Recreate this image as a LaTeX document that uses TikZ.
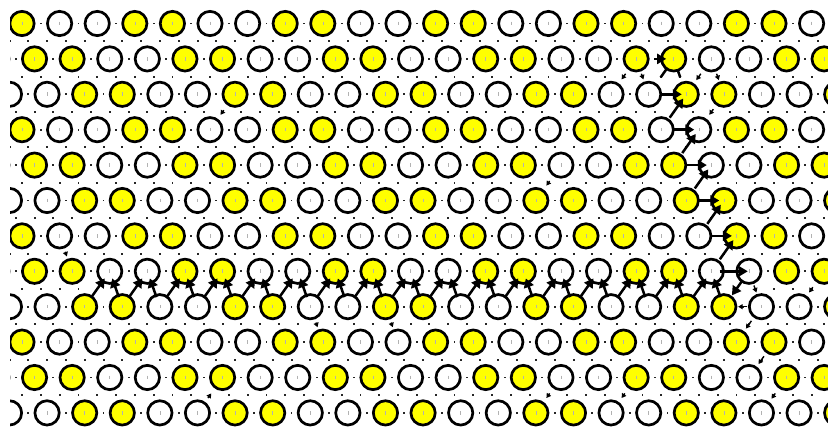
\documentclass[tikz,border=0pt]{standalone}
\usetikzlibrary{arrows.meta,calc}
\definecolor{yel}{RGB}{255,255,0}
\newcommand\zarr[2]{\draw[bigarr] ($(#1)!0.27!(#2)$) -- ($(#1)!0.8!(#2)$);}
\newcommand\warr[2]{\draw[bigarr] ($(#1)!0.34!(#2)$) -- ($(#1)!0.88!(#2)$);}
\newcommand\sarr[4]{\draw[smallarr] ($(#1)!#3!(#2)$) -- ($(#1)!#4!(#2)$);}
\begin{document}
\begin{tikzpicture}[x=1pt,y=-1pt,
  site/.style={circle,draw=black,line width=2.7pt,minimum size=24.3pt,inner sep=0pt},
  bigarr/.style={line width=2.5pt,-{Triangle[length=9pt,width=10pt]}},
  smallarr/.style={line width=1.4pt,-{Triangle[length=4.5pt,width=5pt]}},
  leg/.style={line width=2.5pt},
  tick/.style={gray!60,line width=0.5pt},
  dot/.style={fill=black!85}]
\useasboundingbox (0,0) rectangle (828,430);
\fill[white] (0,0) rectangle (828,430);
\begin{scope}
\clip (10,0) rectangle (828,430);
\foreach \r in {0,...,11}{
 \foreach \k in {-1,...,21}{
  \pgfmathtruncatemacro{\m}{mod(\r,3)}
  \pgfmathsetmacro{\xx}{22+12.53*\m+37.6*\k}
  \pgfmathsetmacro{\yy}{23.5+35.4*\r}
  \pgfmathtruncatemacro{\cc}{mod(mod(\k+4,4)-\m+5,4)}
  \ifnum\cc<2 \def\fc{yel}\else\def\fc{white}\fi
  \node[site,fill=\fc] (c\r-\k) at (\xx,\yy) {};
  \draw[tick] (\xx,\yy-1.8) -- (\xx,\yy+1.8);
  \fill[dot] (\xx-19.7,\yy-0.9) rectangle ++(1.9,1.9);
  \fill[dot] (\xx-13.4,\yy+16.8) rectangle ++(1.9,1.9);
  \fill[dot] (\xx+5.4,\yy+16.8) rectangle ++(1.9,1.9);
 }}
\end{scope}
% horizontal domain wall (zigzag between rows 7 and 8)
\foreach \k in {2,...,18}{
  \pgfmathtruncatemacro{\km}{\k-1}
  \zarr{c8-\km}{c7-\k}
  \zarr{c8-\k}{c7-\k}
}
% vertical domain wall
\warr{c2-16}{c2-17}
\warr{c3-17}{c2-17}
\warr{c3-17}{c3-18}
\warr{c4-17}{c3-18}
\warr{c4-17}{c4-18}
\warr{c5-17}{c4-18}
\warr{c5-17}{c5-18}
\warr{c6-18}{c5-18}
\warr{c6-18}{c6-19}
\warr{c7-18}{c6-19}
\draw[bigarr] ($(c7-18)!0.22!(c7-19)$) -- ($(c7-18)!0.97!(c7-19)$);
\draw[bigarr] ($(c7-19)!0.27!(c8-18)$) -- ($(c7-19)!0.68!(c8-18)$);
% top end of the vertical wall
\draw[bigarr] ($(c1-16)!0.48!(c1-17)$) -- ($(c1-16)!0.8!(c1-17)$);
\draw[leg] ($(c1-17)!0.3!(c2-16)$) -- ($(c1-17)!0.52!(c2-16)$);
\draw[leg] ($(c1-17)!0.3!(c2-17)$) -- ($(c1-17)!0.52!(c2-17)$);
\sarr{c1-18}{c2-17}{0.42}{0.6}
\sarr{c1-18}{c2-18}{0.42}{0.6}
\sarr{c1-16}{c2-15}{0.42}{0.58}
\sarr{c1-16}{c2-16}{0.42}{0.58}
\sarr{c2-18}{c3-18}{0.42}{0.58}
% small arrows near the lower end
\sarr{c8-19}{c8-18}{0.38}{0.62}
\sarr{c7-19}{c8-19}{0.4}{0.6}
\sarr{c8-19}{c9-19}{0.4}{0.62}
\sarr{c9-20}{c10-19}{0.4}{0.62}
\sarr{c10-20}{c11-19}{0.45}{0.6}
\sarr{c7-21}{c8-20}{0.45}{0.6}
% scattered small arrows
\sarr{c2-5}{c3-5}{0.45}{0.58}
\sarr{c6-1}{c7-1}{0.45}{0.58}
\sarr{c4-14}{c5-13}{0.45}{0.58}
\sarr{c10-5}{c11-4}{0.58}{0.45}
\sarr{c8-7}{c9-8}{0.45}{0.58}
\sarr{c8-9}{c9-10}{0.45}{0.58}
\sarr{c10-14}{c11-13}{0.45}{0.58}
\sarr{c10-16}{c11-15}{0.45}{0.58}
\end{tikzpicture}
\end{document}
